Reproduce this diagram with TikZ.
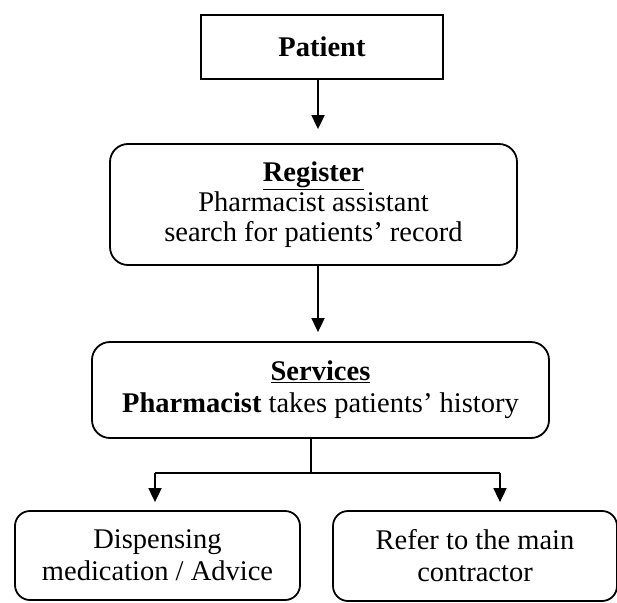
\documentclass[tikz,border=0pt]{standalone}
\usepackage{fontspec}
\setmainfont{Liberation Serif}
\usetikzlibrary{arrows.meta}
\begin{document}
\begin{tikzpicture}[x=1pt,y=-1pt,
  box/.style={draw, line width=1.8pt, align=center, inner sep=0pt,
    font=\fontsize{28.5}{30}\selectfont},
  rbox/.style={box, rounded corners=18pt},
  arr/.style={line width=1.8pt, -{Triangle[length=14pt,width=13pt]}},
  ln/.style={line width=1.8pt}]
\useasboundingbox (0,0) rectangle (617,602);
\node[box, minimum width=242pt, minimum height=64pt] (patient) at (322,47) {\textbf{Patient}};
\node[rbox, minimum width=407pt, minimum height=121pt] (register) at (313.5,204.5)
  {\textbf{\underline{Register}}\\Pharmacist assistant\\search for patients’ record};
\node[rbox, minimum width=457pt, minimum height=96pt] (services) at (320.5,390)
  {\textbf{\underline{Services}}\\[2pt]\textbf{Pharmacist} takes patients’ history};
\node[rbox, rounded corners=15pt, minimum width=285pt, minimum height=89pt] (left) at (157.5,555.5)
  {Dispensing\\[2pt]medication / Advice};
\node[rbox, rounded corners=15pt, minimum width=284pt, minimum height=90pt] (right) at (475,556)
  {Refer to the main\\[2pt]contractor};
\coordinate (a1) at (318,0);
\coordinate (fork) at (311,473);
\coordinate (la) at (155,473);
\coordinate (ra) at (500,473);
\draw[arr, shorten >=14pt] (a1 |- patient.south) -- (a1 |- register.north);
\draw[arr, shorten >=9pt] (a1 |- register.south) -- (a1 |- services.north);
\draw[ln] (fork |- services.south) -- (fork);
\draw[ln] (la) -- (ra);
\draw[arr, shorten >=8pt] (la) -- (la |- left.north);
\draw[arr, shorten >=8pt] (ra) -- (ra |- right.north);
\end{tikzpicture}
\end{document}
